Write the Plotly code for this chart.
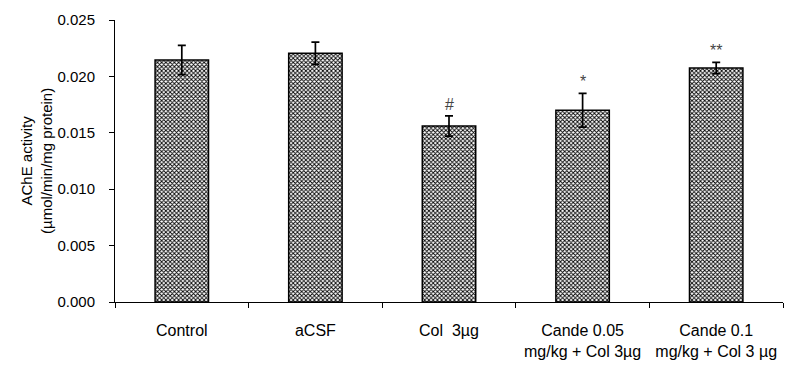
import plotly.graph_objects as go

categories = ["Control", "aCSF", "Col  3µg", "Cande 0.05<br>mg/kg + Col 3µg", "Cande 0.1<br>mg/kg + Col 3 µg"]
values = [0.02145, 0.02205, 0.0156, 0.0170, 0.02074]
errors = [0.0013, 0.00098, 0.0009, 0.0015, 0.0005]
marks = ["", "", "#", "*", "**"]
y_ticks = [0.0, 0.005, 0.010, 0.015, 0.020, 0.025]
y_ticktext = ["0.000", "0.005", "0.010", "0.015", "0.020", "0.025"]

FONT = "Liberation Sans, Arial, sans-serif"

fig = go.Figure()
fig.add_trace(go.Bar(
    x=categories, y=values,
    width=0.4,
    marker=dict(
        color="white",
        line=dict(color="black", width=1.5),
        pattern=dict(shape="x", size=3, solidity=0.5, fgcolor="black", bgcolor="white", fillmode="replace"),
    ),
    error_y=dict(type="data", array=errors, visible=True, color="black", thickness=1.7, width=4),
    showlegend=False,
))

for c, v, e, m in zip(categories, values, errors, marks):
    if m:
        fig.add_annotation(x=c, y=v + e, text=m, showarrow=False, yanchor="bottom", yshift=1,
                           font=dict(family=FONT, size=16, color="#444444"))

# y-axis title placed as rotated annotation
fig.add_annotation(xref="paper", yref="paper", x=-79 / 668, y=0.5, xanchor="center", yanchor="middle",
                   text="AChE activity<br>(µmol/min/mg protein)", textangle=-90, showarrow=False,
                   font=dict(family=FONT, size=15, color="black"))

fig.update_layout(
    width=795, height=371,
    margin=dict(l=107, r=20, t=12, b=77, autoexpand=False),
    plot_bgcolor="white", paper_bgcolor="white",
    font=dict(family=FONT, color="black"),
)
fig.update_xaxes(
    showline=True, linecolor="black", linewidth=1,
    ticks="outside", ticklen=5, tickcolor="black", tickson="boundaries",
    tickfont=dict(size=16), ticklabelstandoff=14,
    showgrid=False, automargin=False,
)
fig.update_yaxes(
    range=[0, 0.025], tickvals=y_ticks, ticktext=y_ticktext,
    showline=True, linecolor="black", linewidth=1,
    ticks="outside", ticklen=5, tickcolor="black", ticklabelstandoff=11,
    tickfont=dict(size=15), showgrid=False, zeroline=False, automargin=False,
)

fig.write_html("out.html")
